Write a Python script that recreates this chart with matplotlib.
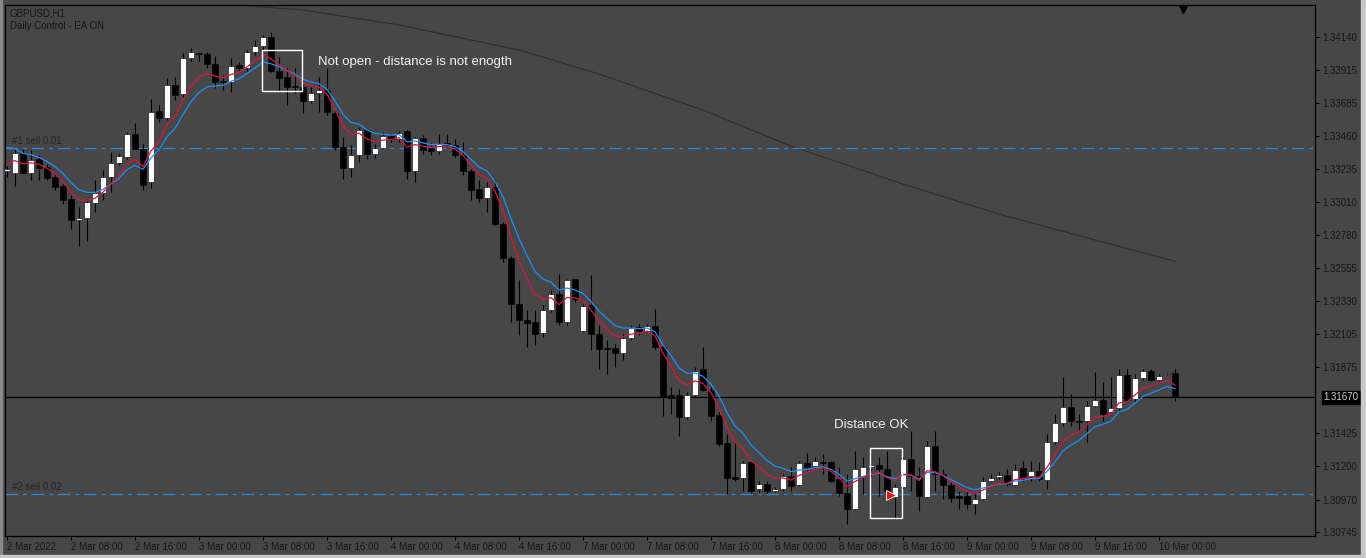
import matplotlib
matplotlib.use("Agg")
import matplotlib.pyplot as plt
import matplotlib.transforms as mtransforms
from matplotlib.patches import Rectangle
import pandas as pd

plt.rcParams['font.family'] = ['Liberation Sans', 'DejaVu Sans']

# GBPUSD H1, 2 Mar 2022 00:00 .. 10 Mar 2022 02:00 (bar index = hour from start)
opens = [1.33219, 1.33208, 1.33345, 1.33208, 1.33304, 1.33246, 1.33178, 1.33116, 1.33027, 1.32887,
         1.32898, 1.33004, 1.33072, 1.33182, 1.33279, 1.33320, 1.33473, 1.33375, 1.33146, 1.33631,
         1.33585, 1.33814, 1.33746, 1.33993, 1.34027, 1.34020, 1.33952, 1.33837, 1.33828, 1.33947,
         1.33924, 1.34034, 1.34075, 1.34137, 1.33906, 1.33867, 1.33801, 1.33798, 1.33700, 1.33759,
         1.33775, 1.33622, 1.33386, 1.33242, 1.33333, 1.33501, 1.33340, 1.33379, 1.33459, 1.33443,
         1.33494, 1.33221, 1.33448, 1.33379, 1.33356, 1.33416, 1.33402, 1.33329, 1.33219, 1.33095,
         1.33036, 1.33111, 1.32859, 1.32625, 1.32308, 1.32202, 1.32186, 1.32113, 1.32271, 1.32376,
         1.32189, 1.32479, 1.32125, 1.32301, 1.32102, 1.32005, 1.32008, 1.31976, 1.32079, 1.32152,
         1.32125, 1.32159, 1.32015, 1.31685, 1.31683, 1.31538, 1.31683, 1.31866, 1.31721, 1.31552,
         1.31355, 1.31126, 1.31115, 1.31225, 1.31039, 1.31076, 1.31030, 1.31041, 1.31133, 1.31071,
         1.31218, 1.31202, 1.31229, 1.31227, 1.31108, 1.31018, 1.30904, 1.31133, 1.31195, 1.31204,
         1.31179, 1.30984, 1.31053, 1.31247, 1.31133, 1.30989, 1.31334, 1.31144, 1.31071, 1.30996,
         1.30996, 1.30938, 1.30973, 1.31094, 1.31121, 1.31138, 1.31071, 1.31186, 1.31133, 1.31163,
         1.31103, 1.31362, 1.31495, 1.31607, 1.31511, 1.31511, 1.31609, 1.31653, 1.31568, 1.31598,
         1.31825, 1.31660, 1.31804, 1.31854, 1.31790, 1.31827, 1.31836]
highs = [1.33256, 1.33375, 1.33375, 1.33363, 1.33329, 1.33272, 1.33203, 1.33134, 1.33054, 1.32974,
         1.33031, 1.33157, 1.33226, 1.33352, 1.33340, 1.33489, 1.33553, 1.33409, 1.33714, 1.33672,
         1.33856, 1.33867, 1.34027, 1.34062, 1.34039, 1.34039, 1.34011, 1.33878, 1.33998, 1.33970,
         1.34050, 1.34119, 1.34153, 1.34176, 1.34004, 1.33924, 1.33924, 1.33844, 1.33798, 1.33867,
         1.33929, 1.33638, 1.33455, 1.33398, 1.33524, 1.33512, 1.33409, 1.33489, 1.33478, 1.33494,
         1.33501, 1.33455, 1.33466, 1.33416, 1.33478, 1.33478, 1.33443, 1.33420, 1.33237, 1.33157,
         1.33146, 1.33157, 1.32870, 1.32640, 1.32473, 1.32266, 1.32266, 1.32301, 1.32408, 1.32518,
         1.32484, 1.32484, 1.32312, 1.32507, 1.32163, 1.32060, 1.32037, 1.32106, 1.32163, 1.32175,
         1.32175, 1.32278, 1.32037, 1.31740, 1.31728, 1.31705, 1.31877, 1.32015, 1.31740, 1.31568,
         1.31419, 1.31362, 1.31236, 1.31236, 1.31099, 1.31099, 1.31057, 1.31144, 1.31190, 1.31236,
         1.31291, 1.31259, 1.31282, 1.31236, 1.31190, 1.31144, 1.31305, 1.31259, 1.31213, 1.31259,
         1.31305, 1.31076, 1.31259, 1.31442, 1.31190, 1.31373, 1.31438, 1.31179, 1.31099, 1.31030,
         1.31030, 1.31007, 1.31121, 1.31144, 1.31156, 1.31179, 1.31213, 1.31236, 1.31236, 1.31225,
         1.31419, 1.31557, 1.31808, 1.31694, 1.31557, 1.31648, 1.31843, 1.31774, 1.31808, 1.31866,
         1.31866, 1.31831, 1.31866, 1.31866, 1.31831, 1.31843, 1.31866]
lows = [1.33180, 1.33118, 1.33198, 1.33162, 1.33162, 1.33157, 1.33088, 1.32992, 1.32825, 1.32704,
        1.32745, 1.32940, 1.33020, 1.33077, 1.33265, 1.33306, 1.33370, 1.33088, 1.33104, 1.33558,
        1.33569, 1.33707, 1.33730, 1.33975, 1.33975, 1.33924, 1.33787, 1.33775, 1.33764, 1.33913,
        1.33901, 1.34016, 1.34050, 1.33901, 1.33773, 1.33672, 1.33753, 1.33622, 1.33684, 1.33627,
        1.33604, 1.33363, 1.33169, 1.33180, 1.33283, 1.33306, 1.33311, 1.33375, 1.33420, 1.33420,
        1.33169, 1.33146, 1.33340, 1.33329, 1.33340, 1.33386, 1.33317, 1.33191, 1.33020, 1.33008,
        1.32940, 1.32848, 1.32600, 1.32186, 1.32095, 1.32015, 1.32026, 1.32083, 1.32255, 1.32163,
        1.32163, 1.32324, 1.32118, 1.31992, 1.31866, 1.31831, 1.31877, 1.31923, 1.32060, 1.32095,
        1.32118, 1.32003, 1.31545, 1.31557, 1.31403, 1.31522, 1.31671, 1.31712, 1.31511, 1.31339,
        1.31007, 1.31099, 1.31030, 1.31018, 1.31018, 1.31012, 1.31023, 1.31030, 1.31030, 1.31064,
        1.31172, 1.31179, 1.31144, 1.31087, 1.30996, 1.30801, 1.30897, 1.31007, 1.31133, 1.30996,
        1.30973, 1.30835, 1.31041, 1.31030, 1.30892, 1.30980, 1.31030, 1.30973, 1.30950, 1.30904,
        1.30904, 1.30870, 1.30966, 1.31087, 1.31110, 1.31064, 1.31064, 1.31099, 1.31099, 1.31099,
        1.31041, 1.31350, 1.31476, 1.31476, 1.31442, 1.31362, 1.31602, 1.31511, 1.31557, 1.31568,
        1.31648, 1.31637, 1.31786, 1.31781, 1.31774, 1.31820, 1.31648]
closes = [1.33237, 1.33345, 1.33210, 1.33299, 1.33242, 1.33173, 1.33111, 1.33020, 1.32885, 1.32898,
          1.33006, 1.33072, 1.33182, 1.33279, 1.33322, 1.33473, 1.33375, 1.33127, 1.33627, 1.33585,
          1.33814, 1.33741, 1.33993, 1.34039, 1.34020, 1.33952, 1.33828, 1.33828, 1.33943, 1.33924,
          1.34034, 1.34075, 1.34137, 1.33906, 1.33860, 1.33798, 1.33796, 1.33700, 1.33757, 1.33775,
          1.33627, 1.33386, 1.33242, 1.33329, 1.33501, 1.33340, 1.33379, 1.33459, 1.33443, 1.33485,
          1.33221, 1.33448, 1.33363, 1.33356, 1.33409, 1.33398, 1.33329, 1.33219, 1.33093, 1.33036,
          1.33111, 1.32859, 1.32625, 1.32308, 1.32202, 1.32179, 1.32102, 1.32266, 1.32376, 1.32186,
          1.32477, 1.32347, 1.32294, 1.32102, 1.32003, 1.32001, 1.31973, 1.32076, 1.32145, 1.32125,
          1.32161, 1.32015, 1.31671, 1.31667, 1.31534, 1.31683, 1.31850, 1.31721, 1.31545, 1.31350,
          1.31117, 1.31108, 1.31220, 1.31030, 1.31076, 1.31025, 1.31041, 1.31128, 1.31064, 1.31218,
          1.31195, 1.31236, 1.31218, 1.31099, 1.31018, 1.30904, 1.31179, 1.31190, 1.31204, 1.31179,
          1.31030, 1.31057, 1.31247, 1.31133, 1.30996, 1.31339, 1.31144, 1.31071, 1.30980, 1.30980,
          1.30938, 1.30973, 1.31099, 1.31115, 1.31138, 1.31076, 1.31174, 1.31121, 1.31163, 1.31110,
          1.31362, 1.31495, 1.31602, 1.31506, 1.31499, 1.31609, 1.31653, 1.31557, 1.31596, 1.31825,
          1.31653, 1.31804, 1.31854, 1.31790, 1.31815, 1.31836, 1.31670]

# moving averages: values just before the first visible bar
fast_ma_start = 1.33286
slow_ma_start = 1.33418

# long grey MA, read at a few bars
long_ma_bars = [26, 37, 49, 64, 74, 87, 98, 112, 124, 137, 146]
long_ma_vals = [1.34370, 1.34325, 1.34222, 1.34051, 1.33886, 1.33639, 1.33392, 1.33132, 1.32926, 1.32734, 1.32603]

# order lines and current price
sell_lines = [1.33379, 1.31008]
sell_labels = ['#1 sell 0.01', '#2 sell 0.02']
last_price = 1.31670

# axis labels
price_ticks = [1.34140, 1.33915, 1.33685, 1.33460, 1.33235, 1.33010, 1.32780, 1.32555,
               1.32330, 1.32105, 1.31875, 1.31425, 1.31200, 1.30970, 1.30745]
time_labels = ['2 Mar 2022', '2 Mar 08:00', '2 Mar 16:00', '3 Mar 00:00', '3 Mar 08:00', '3 Mar 16:00',
               '4 Mar 00:00', '4 Mar 08:00', '4 Mar 16:00', '7 Mar 00:00', '7 Mar 08:00', '7 Mar 16:00',
               '8 Mar 00:00', '8 Mar 08:00', '8 Mar 16:00', '9 Mar 00:00', '9 Mar 08:00', '9 Mar 16:00',
               '10 Mar 00:00']

bg = '#474747'
fig = plt.figure(figsize=(13.66, 5.58), dpi=100)
fig.patch.set_facecolor(bg)
W, H = 1366, 558
ax = fig.add_axes([5 / W, (H - 536) / H, 1310 / W, 531 / H])
ax.set_facecolor(bg)

n = len(closes)
xs = list(range(n))

# long MA
ax.plot(long_ma_bars, long_ma_vals, color='#2f2f2f', lw=0.9, zorder=1)

# order lines
for lvl, lab in zip(sell_lines, sell_labels):
    ax.axhline(lvl, color='#2a88dc', lw=0.9, dashes=(10, 4, 3, 4), zorder=1)
    ax.annotate(lab, xy=(0.6, lvl), xytext=(0, 1.5), textcoords='offset points',
                ha='left', va='bottom', fontsize=7, color='#242424')

# current price line
ax.axhline(last_price, color='black', lw=0.9, zorder=1)

# candles
for i in xs:
    o, h, l, c = opens[i], highs[i], lows[i], closes[i]
    ax.vlines(i, l, h, color='black', lw=0.8, zorder=2)
    body = max(abs(c - o), 0.00002)
    col = 'white' if c >= o else 'black'
    ax.bar(i, body, bottom=min(o, c), width=0.64, color=col, edgecolor='black', lw=0.4, zorder=3)

# moving averages from closes
fast = pd.Series([fast_ma_start] + closes).ewm(span=6, adjust=False).mean().iloc[1:]
slow = pd.Series([slow_ma_start] + closes).ewm(span=9, adjust=False).mean().iloc[1:]
ax.plot(xs, slow.values, color='#1e8fff', lw=0.9, zorder=4)
ax.plot(xs, fast.values, color='#dc143c', lw=0.9, zorder=4)

# annotations
ax.add_patch(Rectangle((31.9, 1.33770), 5.0, 1.34051 - 1.33770, fill=False, ec='white', lw=1, zorder=5))
ax.text(38.9, 1.33969, 'Not open - distance is not enogth', color='#f2f2f2', fontsize=9.5,
        ha='left', va='center', zorder=5)
ax.add_patch(Rectangle((107.9, 1.30843), 4.0, 1.31323 - 1.30843, fill=False, ec='white', lw=1, zorder=5))
ax.text(103.4, 1.31481, 'Distance OK', color='#f2f2f2', fontsize=9.5, ha='left', va='center', zorder=5)
ax.plot(110.5, 1.31002, marker='>', ms=7, mfc='#ee1111', mec='white', mew=0.6, zorder=6)

# chart-shift marker
trans = mtransforms.blended_transform_factory(ax.transData, ax.transAxes)
ax.plot(147, 0.992, marker='v', ms=6, color='black', transform=trans, clip_on=False, zorder=6)

ax.set_xlim(-0.25, 163.5)
ax.set_ylim(1.30720, 1.34359)

# axes styling
for s in ax.spines.values():
    s.set_color('black')
    s.set_linewidth(0.9)
ax.yaxis.tick_right()
ax.set_yticks(price_ticks)
ax.set_yticklabels([f'{p:.5f}' for p in price_ticks])
ax.tick_params(axis='y', length=3, width=0.8, color='black', pad=2, labelsize=7, labelcolor='#161616')
ax.set_xticks(list(range(0, 8 * len(time_labels), 8)))
ax.set_xticklabels(time_labels, ha='left')
ax.tick_params(axis='x', length=3, width=0.8, color='black', pad=1.5, labelsize=7, labelcolor='#161616')

# last price label on the axis
ax.annotate(f'{last_price:.5f}', xy=(1.0, last_price), xycoords=('axes fraction', 'data'),
            xytext=(6, 0), textcoords='offset points', ha='left', va='center', fontsize=7,
            color='#d0d0d0', bbox=dict(boxstyle='square,pad=0.15', fc='black', ec='black'), zorder=7)

# symbol info
fig.text(10 / W, 1 - 13 / H, 'GBPUSD,H1', fontsize=7, color='#161616', va='center', ha='left')
fig.text(10 / W, 1 - 26 / H, 'Daily Control - EA ON', fontsize=7, color='#161616', va='center', ha='left')

# window border
fig.patches.append(Rectangle((0, 0), 2 / W, 1, transform=fig.transFigure, color='#8a8a8a', zorder=0))
fig.patches.append(Rectangle((1361 / W, 0), 5 / W, 1, transform=fig.transFigure, color='#c8c8c8', zorder=0))
fig.patches.append(Rectangle((0, 0), 1, 3 / H, transform=fig.transFigure, color='#c8c8c8', zorder=0))

fig.savefig('out.png', dpi=100, facecolor=fig.get_facecolor())
